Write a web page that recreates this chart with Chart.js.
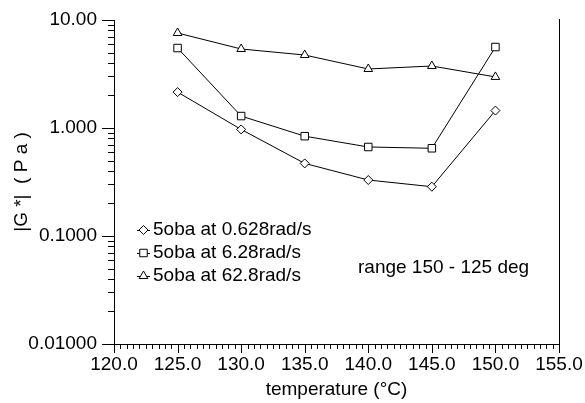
<!DOCTYPE html>
<html>
<head>
<meta charset="utf-8">
<script src="https://cdn.jsdelivr.net/npm/chart.js@4/dist/chart.umd.min.js"></script>
<style>
  html, body { margin: 0; padding: 0; background: #fff; }
  #wrap { width: 585px; height: 403px; }
</style>
</head>
<body>
<div id="wrap"><canvas id="modulusChart"></canvas></div>
<script>
// Temperatures (°C) and |G*| (Pa) per frequency
const temperatures = [125, 130, 135, 140, 145, 150];
const g628mrad = [2.15, 0.97, 0.47, 0.33, 0.286, 1.45];
const g628rad = [5.5, 1.29, 0.84, 0.667, 0.649, 5.62];
const g628rad10 = [7.58, 5.39, 4.74, 3.52, 3.75, 2.97];
const seriesLabels = ['5oba at 0.628rad/s', '5oba at 6.28rad/s', '5oba at 62.8rad/s'];
const seriesShapes = ['rectRot', 'rect', 'triangle'];
const seriesRadius = [4.5, 5.3, 5];
const yTickValues = [0.01, 0.1, 1, 10];
const noteText = 'range 150 - 125 deg';

const FONT = "'Liberation Sans', Arial, sans-serif";
Chart.defaults.font.family = FONT;
Chart.defaults.font.size = 19;
Chart.defaults.color = '#000';

function toPoints(values) {
  return values.map((v, i) => ({ x: temperatures[i], y: v }));
}

function makeDataset(i, values) {
  return {
    label: seriesLabels[i],
    data: toPoints(values),
    borderColor: '#000',
    borderWidth: 1,
    tension: 0,
    pointStyle: seriesShapes[i],
    pointRadius: seriesRadius[i],
    pointBackgroundColor: '#fff',
    pointBorderColor: '#000',
    pointBorderWidth: 1
  };
}

// same geometry as Chart.js point styles
function drawMarker(c, shape, r, x, y) {
  c.beginPath();
  if (shape === 'rect') {
    const s = Math.SQRT1_2 * r;
    c.rect(x - s, y - s, 2 * s, 2 * s);
  } else if (shape === 'rectRot') {
    c.moveTo(x, y - r);
    c.lineTo(x + r, y);
    c.lineTo(x, y + r);
    c.lineTo(x - r, y);
    c.closePath();
  } else {
    c.moveTo(x, y - r);
    c.lineTo(x + Math.sin(2 * Math.PI / 3) * r, y - Math.cos(2 * Math.PI / 3) * r);
    c.lineTo(x + Math.sin(4 * Math.PI / 3) * r, y - Math.cos(4 * Math.PI / 3) * r);
    c.closePath();
  }
  c.fillStyle = '#fff';
  c.fill();
  c.stroke();
}

// tick marks (long on decades / every 5 deg), right spine, legend and note
const decorations = {
  id: 'decorations',
  afterDraw(chart) {
    const c = chart.ctx;
    const area = chart.chartArea;
    const xs = chart.scales.x;
    const ys = chart.scales.y;
    c.save();
    c.strokeStyle = '#000';
    c.lineWidth = 1;

    c.beginPath();
    // log axis: 1..9 within every decade
    for (let e = Math.round(Math.log10(ys.min)); e < Math.round(Math.log10(ys.max)); e += 1) {
      for (let m = 1; m <= 10; m += 1) {
        const py = Math.round(ys.getPixelForValue(m * Math.pow(10, e))) + 0.5;
        const len = (m === 1 || m === 10) ? 12 : 6;
        c.moveTo(area.left - len, py);
        c.lineTo(area.left, py);
      }
    }
    // temperature axis: every 0.5 deg
    for (let k = 0; k <= Math.round((xs.max - xs.min) * 2); k += 1) {
      const px = Math.round(xs.getPixelForValue(xs.min + k / 2)) + 0.5;
      const len = k % 10 === 0 ? 9 : 5;
      c.moveTo(px, area.bottom);
      c.lineTo(px, area.bottom + len);
    }
    const rx = Math.round(area.right) + 0.5;
    c.moveTo(rx, area.top - 1);
    c.lineTo(rx, area.bottom);
    c.stroke();

    // legend inside the plot
    c.font = '19px ' + FONT;
    c.textBaseline = 'middle';
    c.textAlign = 'left';
    chart.data.datasets.forEach((ds, i) => {
      const y = area.top + 210 + i * 23;
      const x0 = area.left + 23;
      c.beginPath();
      c.moveTo(x0, y + 0.5);
      c.lineTo(x0 + 13, y + 0.5);
      c.stroke();
      drawMarker(c, ds.pointStyle, ds.pointRadius, x0 + 6.5, y);
      c.fillStyle = '#000';
      c.fillText(ds.label, x0 + 16, y);
    });

    c.fillStyle = '#000';
    c.fillText(noteText, area.left + 244, area.top + 248);
    c.restore();
  }
};

// space for the label offset only, marks come from the plugin
const hiddenTicks = {
  display: true,
  drawOnChartArea: false,
  color: 'rgba(0,0,0,0)',
  tickColor: 'rgba(0,0,0,0)'
};

new Chart(document.getElementById('modulusChart'), {
  type: 'line',
  data: {
    datasets: [
      makeDataset(0, g628mrad),
      makeDataset(1, g628rad),
      makeDataset(2, g628rad10)
    ]
  },
  options: {
    responsive: true,
    maintainAspectRatio: false,
    animation: false,
    events: [],
    layout: { padding: { left: 0, top: 20, right: 26, bottom: 0 } },
    plugins: {
      legend: { display: false },
      tooltip: { enabled: false }
    },
    scales: {
      x: {
        type: 'linear',
        min: 120,
        max: 155,
        grid: { ...hiddenTicks, tickLength: 9 },
        border: { display: true, color: '#000', width: 1 },
        ticks: {
          stepSize: 5,
          autoSkip: false,
          maxRotation: 0,
          minRotation: 0,
          padding: 0,
          color: '#000',
          callback: (v) => Number(v).toFixed(1)
        },
        title: {
          display: true,
          text: 'temperature (°C)',
          color: '#000',
          padding: { top: 0, bottom: 2 }
        },
        afterFit: (scale) => { scale.height = 59; }
      },
      y: {
        type: 'logarithmic',
        min: 0.01,
        max: 10,
        grid: { ...hiddenTicks, tickLength: 12 },
        border: { display: true, color: '#000', width: 1 },
        ticks: {
          autoSkip: false,
          padding: 5,
          color: '#000',
          callback: (v) => (yTickValues.some((t) => Math.abs(t - v) < t * 1e-6) ? Number(v).toPrecision(4) : '')
        },
        title: {
          display: true,
          text: '|G *|  ( P a )',
          color: '#000',
          padding: { top: 10, bottom: 0 }
        },
        afterFit: (scale) => { scale.width = 114; }
      }
    }
  },
  plugins: [decorations]
});
</script>
</body>
</html>
